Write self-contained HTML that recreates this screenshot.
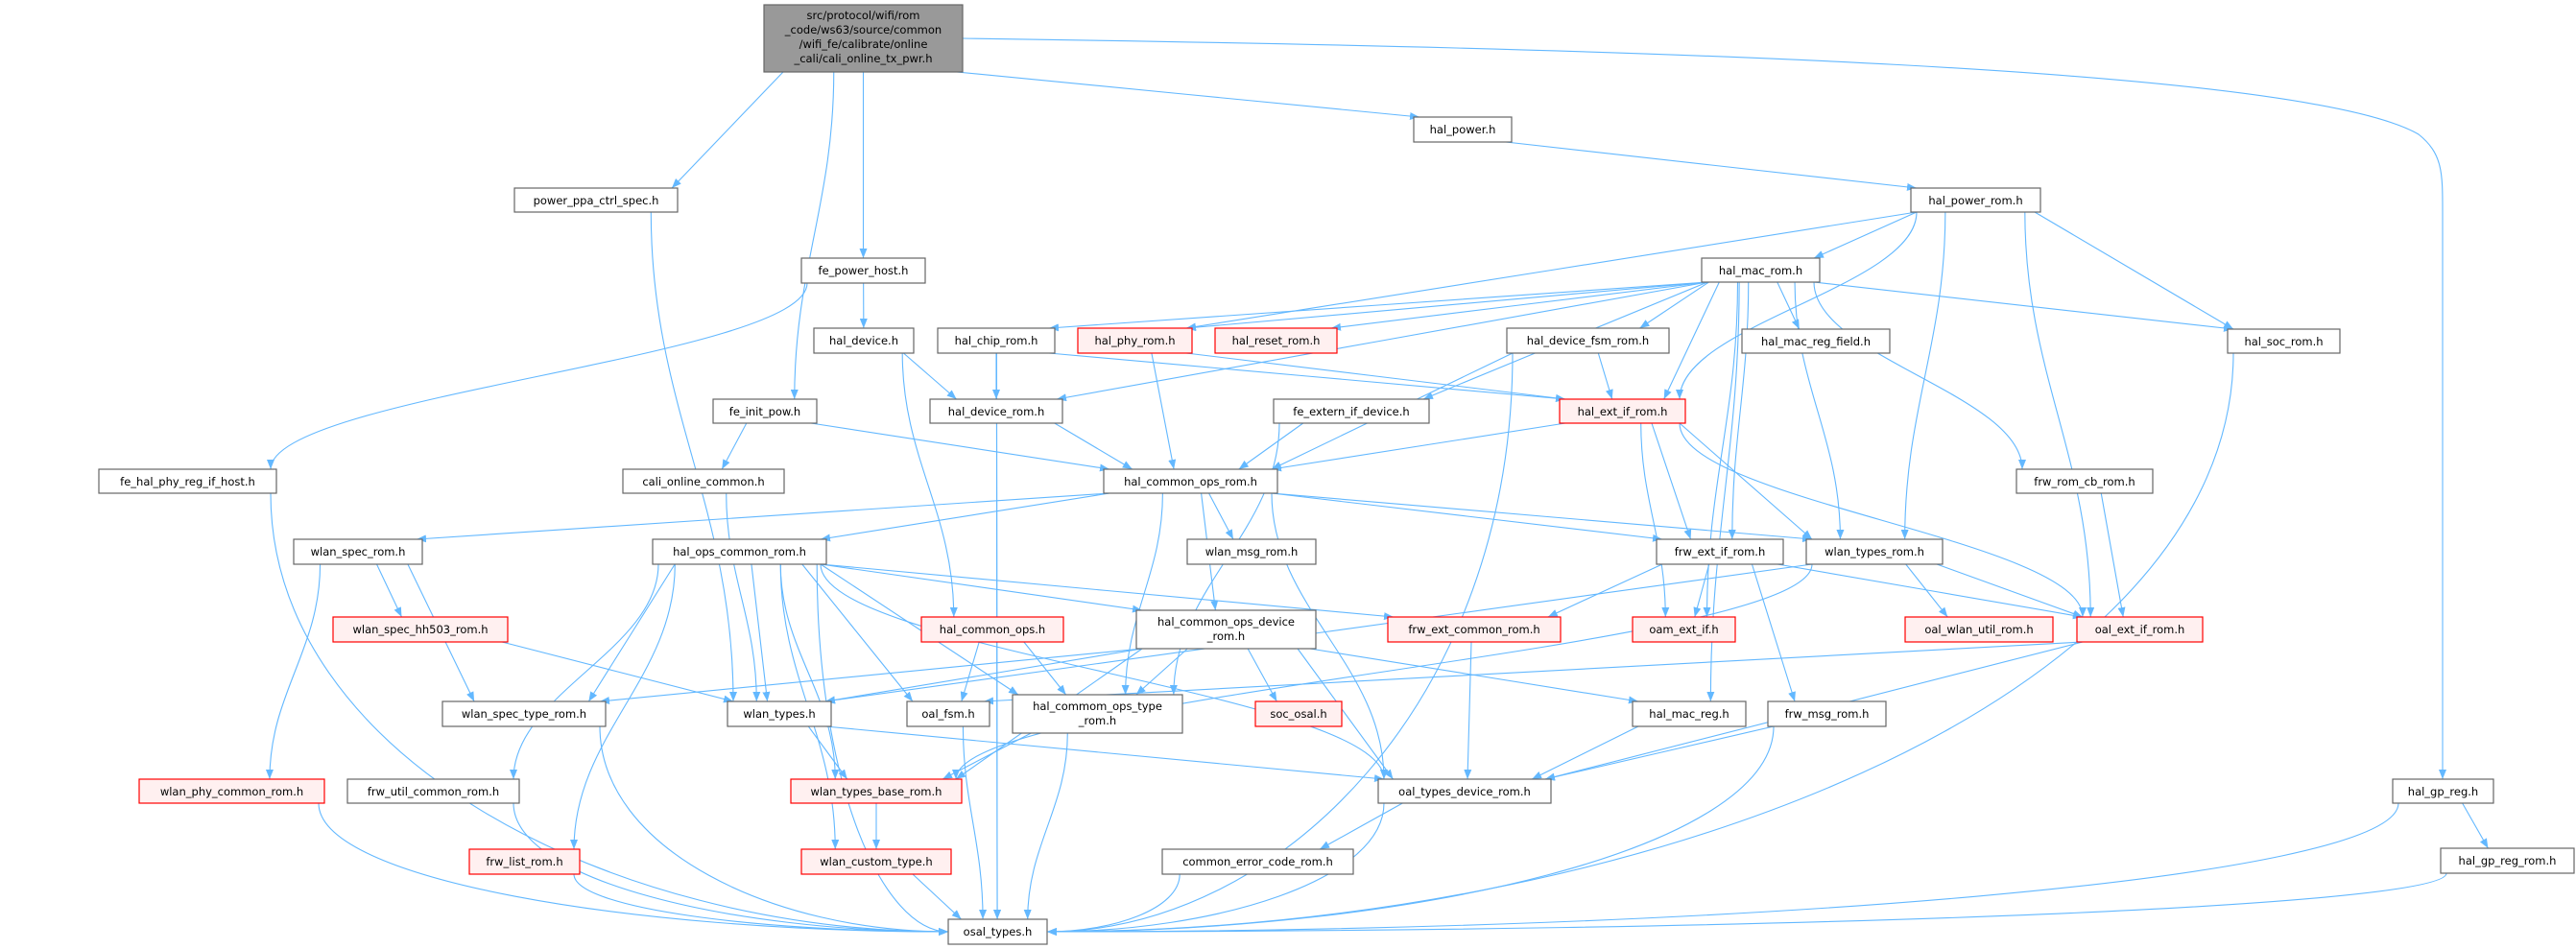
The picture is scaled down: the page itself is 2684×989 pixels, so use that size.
<!DOCTYPE html>
<html><head><meta charset="utf-8">
<style>
html,body{margin:0;padding:0;background:#fff;}
svg{display:block;}
text{font-family:"DejaVu Sans","Liberation Sans",sans-serif;font-size:11.5px;fill:#000;}
.n{fill:#fff;stroke:#666;stroke-width:1.2;}
.r{fill:#fff0f0;stroke:#f00;stroke-width:1.2;}
.g{fill:#999;stroke:#666;stroke-width:1.2;}
.e{fill:none;stroke:#63b8ff;stroke-width:1.1;}
</style></head>
<body>
<svg id="s" width="2684" height="989" viewBox="0 0 2684 989" xmlns="http://www.w3.org/2000/svg">
<defs><marker id="a" markerWidth="10" markerHeight="8" refX="10" refY="4" orient="auto" markerUnits="userSpaceOnUse"><path d="M0,0 L10,4 L0,8 z" fill="#63b8ff"/></marker></defs>
<g id="edges">
<path class="e" marker-end="url(#a)" d="M1003,40 C1700,50 2400,70 2520,140 C2545,160 2545,180 2545,220 L2545,812"/>
</g>
<g id="nodes">
<rect class="g" x="796" y="5" width="207" height="70"/>
<text x="899.5" y="20" text-anchor="middle">src/protocol/wifi/rom</text>
<text x="899.5" y="35" text-anchor="middle">_code/ws63/source/common</text>
<text x="899.5" y="50" text-anchor="middle">/wifi_fe/calibrate/online</text>
<text x="899.5" y="65" text-anchor="middle">_cali/cali_online_tx_pwr.h</text>

<rect class="n" x="536" y="196" width="170" height="25"/><text x="621" y="213" text-anchor="middle">power_ppa_ctrl_spec.h</text>
<rect class="n" x="835" y="269" width="129" height="26"/><text x="899.5" y="286" text-anchor="middle">fe_power_host.h</text>
<rect class="n" x="848" y="342" width="104" height="26"/><text x="900" y="359" text-anchor="middle">hal_device.h</text>
<rect class="n" x="743" y="416" width="108" height="25"/><text x="797" y="433" text-anchor="middle">fe_init_pow.h</text>
<rect class="n" x="103" y="489" width="185" height="25"/><text x="195.5" y="506" text-anchor="middle">fe_hal_phy_reg_if_host.h</text>
<rect class="n" x="649" y="489" width="168" height="25"/><text x="733" y="506" text-anchor="middle">cali_online_common.h</text>
<rect class="n" x="1473" y="122" width="102" height="26"/><text x="1524" y="139" text-anchor="middle">hal_power.h</text>
<rect class="n" x="977" y="342" width="122" height="26"/><text x="1038" y="359" text-anchor="middle">hal_chip_rom.h</text>
<rect class="r" x="1123" y="342" width="119" height="26"/><text x="1182.5" y="359" text-anchor="middle">hal_phy_rom.h</text>
<rect class="r" x="1266" y="342" width="127" height="26"/><text x="1329.5" y="359" text-anchor="middle">hal_reset_rom.h</text>
<rect class="n" x="1570" y="342" width="169" height="26"/><text x="1654.5" y="359" text-anchor="middle">hal_device_fsm_rom.h</text>
<rect class="n" x="969" y="416" width="138" height="25"/><text x="1038" y="433" text-anchor="middle">hal_device_rom.h</text>
<rect class="n" x="1327" y="416" width="162" height="25"/><text x="1408" y="433" text-anchor="middle">fe_extern_if_device.h</text>
<rect class="r" x="1625" y="416" width="131" height="25"/><text x="1690.5" y="433" text-anchor="middle">hal_ext_if_rom.h</text>
<rect class="n" x="1150" y="489" width="181" height="25"/><text x="1240.5" y="506" text-anchor="middle">hal_common_ops_rom.h</text>
<rect class="n" x="306" y="562" width="134" height="26"/><text x="373" y="579" text-anchor="middle">wlan_spec_rom.h</text>
<rect class="n" x="680" y="562" width="181" height="26"/><text x="770.5" y="579" text-anchor="middle">hal_ops_common_rom.h</text>
<rect class="r" x="347" y="643" width="182" height="26"/><text x="438" y="660" text-anchor="middle">wlan_spec_hh503_rom.h</text>
<rect class="n" x="461" y="731" width="170" height="26"/><text x="546" y="748" text-anchor="middle">wlan_spec_type_rom.h</text>
<rect class="n" x="758" y="731" width="108" height="26"/><text x="812" y="748" text-anchor="middle">wlan_types.h</text>
<rect class="r" x="145" y="812" width="193" height="25"/><text x="241.5" y="829" text-anchor="middle">wlan_phy_common_rom.h</text>
<rect class="n" x="362" y="812" width="179" height="25"/><text x="451.5" y="829" text-anchor="middle">frw_util_common_rom.h</text>
<rect class="r" x="489" y="885" width="115" height="26"/><text x="546.5" y="902" text-anchor="middle">frw_list_rom.h</text>
<rect class="r" x="824" y="812" width="178" height="25"/><text x="913" y="829" text-anchor="middle">wlan_types_base_rom.h</text>
<rect class="r" x="835" y="885" width="156" height="26"/><text x="913" y="902" text-anchor="middle">wlan_custom_type.h</text>
<rect class="n" x="1237" y="562" width="134" height="26"/><text x="1304" y="579" text-anchor="middle">wlan_msg_rom.h</text>
<rect class="n" x="1726" y="562" width="132" height="26"/><text x="1792" y="579" text-anchor="middle">frw_ext_if_rom.h</text>
<rect class="r" x="960" y="643" width="148" height="26"/><text x="1034" y="660" text-anchor="middle">hal_common_ops.h</text>
<rect class="n" x="1184" y="636" width="187" height="40"/><text x="1277.5" y="652" text-anchor="middle">hal_common_ops_device</text><text x="1277.5" y="667" text-anchor="middle">_rom.h</text>
<rect class="r" x="1446" y="643" width="180" height="26"/><text x="1536" y="660" text-anchor="middle">frw_ext_common_rom.h</text>
<rect class="r" x="1701" y="643" width="107" height="26"/><text x="1754.5" y="660" text-anchor="middle">oam_ext_if.h</text>
<rect class="n" x="945" y="731" width="86" height="26"/><text x="988" y="748" text-anchor="middle">oal_fsm.h</text>
<rect class="n" x="1055" y="724" width="177" height="40"/><text x="1143.5" y="740" text-anchor="middle">hal_commom_ops_type</text><text x="1143.5" y="755" text-anchor="middle">_rom.h</text>
<rect class="r" x="1308" y="731" width="90" height="26"/><text x="1353" y="748" text-anchor="middle">soc_osal.h</text>
<rect class="n" x="1701" y="731" width="118" height="26"/><text x="1760" y="748" text-anchor="middle">hal_mac_reg.h</text>
<rect class="n" x="1436" y="812" width="180" height="25"/><text x="1526" y="829" text-anchor="middle">oal_types_device_rom.h</text>
<rect class="n" x="1211" y="885" width="199" height="26"/><text x="1310.5" y="902" text-anchor="middle">common_error_code_rom.h</text>
<rect class="n" x="988" y="958" width="103" height="26"/><text x="1039.5" y="975" text-anchor="middle">osal_types.h</text>
<rect class="n" x="1991" y="196" width="135" height="25"/><text x="2058.5" y="213" text-anchor="middle">hal_power_rom.h</text>
<rect class="n" x="1773" y="269" width="123" height="25"/><text x="1834.5" y="286" text-anchor="middle">hal_mac_rom.h</text>
<rect class="n" x="1815" y="343" width="154" height="25"/><text x="1892" y="360" text-anchor="middle">hal_mac_reg_field.h</text>
<rect class="n" x="2321" y="343" width="117" height="25"/><text x="2379.5" y="360" text-anchor="middle">hal_soc_rom.h</text>
<rect class="n" x="2101" y="489" width="142" height="25"/><text x="2172" y="506" text-anchor="middle">frw_rom_cb_rom.h</text>
<rect class="n" x="1882" y="562" width="142" height="26"/><text x="1953" y="579" text-anchor="middle">wlan_types_rom.h</text>
<rect class="r" x="1985" y="643" width="154" height="26"/><text x="2062" y="660" text-anchor="middle">oal_wlan_util_rom.h</text>
<rect class="r" x="2164" y="643" width="131" height="26"/><text x="2229.5" y="660" text-anchor="middle">oal_ext_if_rom.h</text>
<rect class="n" x="1842" y="731" width="123" height="26"/><text x="1903.5" y="748" text-anchor="middle">frw_msg_rom.h</text>
<rect class="n" x="2493" y="812" width="105" height="25"/><text x="2545.5" y="829" text-anchor="middle">hal_gp_reg.h</text>
<rect class="n" x="2543" y="884" width="139" height="26"/><text x="2612.5" y="901" text-anchor="middle">hal_gp_reg_rom.h</text>
</g>
</svg>
<script>
var N={
root:[796,5,1003,75],ppa:[536,196,706,221],fph:[835,269,964,295],hd:[848,342,952,368],fip:[743,416,851,441],
fhp:[103,489,288,514],coc:[649,489,817,514],hp:[1473,122,1575,148],hcr:[977,342,1099,368],hpr:[1123,342,1242,368],
hrr:[1266,342,1393,368],hdf:[1570,342,1739,368],hdr:[969,416,1107,441],fei:[1327,416,1489,441],her:[1625,416,1756,441],
hco:[1150,489,1331,514],wsr:[306,562,440,588],hoc:[680,562,861,588],wsh:[347,643,529,669],wst:[461,731,631,757],
wt:[758,731,866,757],wpc:[145,812,338,837],fuc:[362,812,541,837],flr:[489,885,604,911],wtb:[824,812,1002,837],
wct:[835,885,991,911],wmr:[1237,562,1371,588],fer:[1726,562,1858,588],hcops:[960,643,1108,669],hcd:[1184,636,1371,676],
fec:[1446,643,1626,669],oam:[1701,643,1808,669],ofsm:[945,731,1031,757],hct:[1055,724,1232,764],soc:[1308,731,1398,757],
hmr:[1701,731,1819,757],otd:[1436,812,1616,837],cec:[1211,885,1410,911],os:[988,958,1091,984],hpw:[1991,196,2126,221],
hmac:[1773,269,1896,294],hmf:[1815,343,1969,368],hsoc:[2321,343,2438,368],frc:[2101,489,2243,514],wtr:[1882,562,2024,588],
owu:[1985,643,2139,669],oei:[2164,643,2295,669],fmr:[1842,731,1965,757],gp:[2493,812,2598,837],gpr:[2543,884,2682,910]};
var E=[
["root","ppa"],["root","fip"],["root","fph"],["root","hp"],
["ppa","wt"],["fph","fhp"],["fph","hd"],["hd","hdr"],["hd","hcops"],["fip","coc"],["fip","hco"],["coc","wt"],["fhp","os"],
["hp","hpw"],["hpw","hmac"],["hpw","hpr"],["hpw","her"],["hpw","wtr"],["hpw","hsoc"],["hpw","oei"],
["hmac","hcr"],["hmac","hpr"],["hmac","hrr"],["hmac","hdr"],["hmac","fei"],["hmac","hdf"],["hmac","her"],["hmac","hmf"],
["hmac","hsoc"],["hmac","frc"],["hmac","oam"],["hmac","fer"],["hmac","wtr"],["hmac","hmr"],
["hcr","hdr"],["hcr","her"],["hcr","os"],["hpr","hco"],["hpr","her"],["hdf","her"],["hdf","hco"],["hdf","os"],
["hdr","hco"],["hdr","os"],["fei","hco"],["fei","hct"],
["her","hco"],["her","fer"],["her","oam"],["her","wtr"],["her","oei"],
["hco","wsr"],["hco","hoc"],["hco","wmr"],["hco","hcd"],["hco","hct"],["hco","fer"],["hco","wtr"],["hco","otd"],
["hsoc","os"],["frc","oei"],["wsr","wsh"],["wsr","wst"],["wsr","wpc"],
["hoc","wt"],["hoc","fec"],["hoc","hcd"],["hoc","hct"],["hoc","ofsm"],["hoc","wtb"],["hoc","wct"],["hoc","otd"],
["hoc","fuc"],["hoc","flr"],["hoc","wst"],["hoc","os"],
["wsh","wt"],["fer","fec"],["fer","oam"],["fer","fmr"],["fer","oei"],
["wtr","owu"],["wtr","oei"],["wtr","wtb"],["wtr","wt"],
["hcops","ofsm"],["hcops","hct"],
["hcd","wst"],["hcd","wt"],["hcd","hct"],["hcd","soc"],["hcd","otd"],["hcd","hmr"],["hcd","wtb"],
["fec","otd"],["oei","ofsm"],["oei","otd"],["ofsm","os"],["hct","wtb"],["hct","os"],["wt","wtb"],["wt","otd"],
["wst","os"],["wpc","os"],["fuc","os"],["flr","os"],["wtb","wct"],["wct","os"],["otd","cec"],["otd","os"],["cec","os"],
["fmr","otd"],["fmr","os"],["hmr","otd"],["gp","gpr"],["gp","os"],["gpr","os"]];
var g=document.getElementById("edges"),ns="http://www.w3.org/2000/svg";
function cl(v,a,b){return Math.max(a+6,Math.min(b-6,v));}
E.forEach(function(e){
 var s=N[e[0]],t=N[e[1]];
 var sc=(s[0]+s[2])/2,tc=(t[0]+t[2])/2;
 var sx,sy,tx,ty,c1x,c1y,c2x,c2y;
 if(t[1]>s[3]+4){
  sx=cl(sc+(tc-sc)*0.3,s[0],s[2]);sy=s[3];
  if(e[1]=="os"&&Math.abs(tc-sc)>150){
   tx=tc<sc?t[2]:t[0];ty=(t[1]+t[3])/2;
   c1x=sx;c1y=sy+(ty-sy)*0.6;c2x=tx+(sx-tx)*0.5;c2y=ty;
  }else{
   tx=cl(tc+(sc-tc)*0.3,t[0],t[2]);ty=t[1];
   var dy=ty-sy;
   if(dy<=160){c1x=sx+(tx-sx)/3;c1y=sy+dy/3;c2x=sx+2*(tx-sx)/3;c2y=sy+2*dy/3;}
   else{c1x=sx;c1y=sy+dy*0.4;c2x=tx;c2y=ty-dy*0.4;}
  }
 }else{
  sx=tc>sc?s[2]:s[0];sy=(s[1]+s[3])/2;tx=tc>sc?t[0]:t[2];ty=(t[1]+t[3])/2;
  c1x=(sx+tx)/2;c1y=sy;c2x=(sx+tx)/2;c2y=ty;
 }
 var p=document.createElementNS(ns,"path");
 p.setAttribute("d","M"+sx+","+sy+" C"+c1x+","+c1y+" "+c2x+","+c2y+" "+tx+","+ty);
 p.setAttribute("class","e");p.setAttribute("marker-end","url(#a)");
 g.appendChild(p);
});
</script>
</body></html>
